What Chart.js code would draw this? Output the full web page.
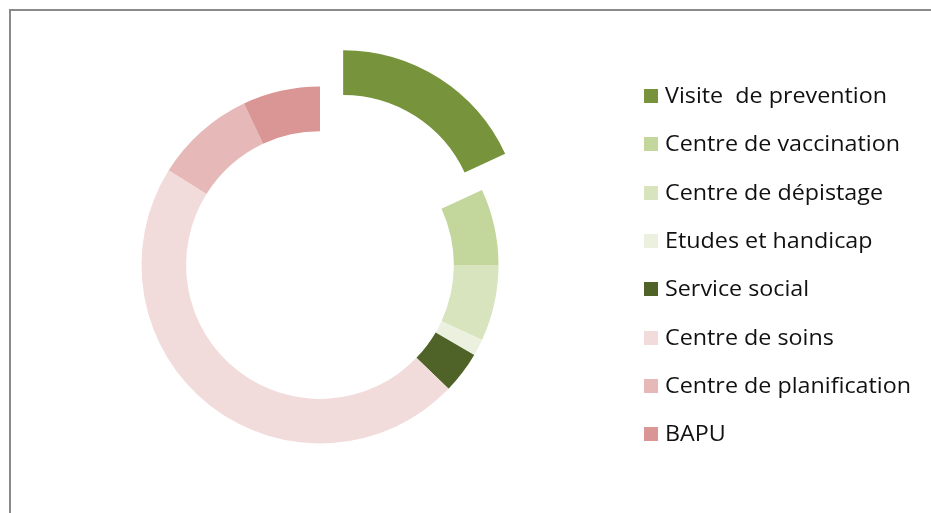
<!DOCTYPE html>
<html>
<head>
<meta charset="utf-8">
<script src="https://cdn.jsdelivr.net/npm/chart.js@4/dist/chart.umd.min.js"></script>
<style>
  html, body { margin: 0; padding: 0; background: #fff; }
  body { width: 931px; height: 513px; position: relative; overflow: hidden; }
  #frame { position: absolute; left: 9px; top: 9px; width: 940px; height: 520px;
           border-top: 2px solid #8a8a8a; border-left: 2px solid #8a8a8a; }
  #wrap { position: absolute; left: 0; top: 0; width: 931px; height: 513px; }
  #legend { position: absolute; left: 644px; top: 0; font-family: "Open Sans", "Lato", sans-serif;
            font-size: 21px; color: #111; }
  .item { position: absolute; left: 0; white-space: pre; height: 14px; }
  .sw { position: absolute; left: 0; top: 0; width: 14px; height: 14px; }
  .lbl { position: absolute; left: 21px; top: -4px; line-height: 21px; transform-origin: 0 50%; }
</style>
</head>
<body>
<div id="frame"></div>
<div id="wrap"><canvas id="c" width="931" height="513"></canvas></div>
<div id="legend"></div>
<script>
const categories = ["Visite  de prevention", "Centre de vaccination", "Centre de dépistage",
  "Etudes et handicap", "Service social", "Centre de soins", "Centre de planification", "BAPU"];
const values = [18.1, 6.9, 6.9, 1.5, 3.8, 46.7, 9.1, 7.0];
const colors = ["#77933C", "#C3D69B", "#D7E4BD", "#EBF1DE", "#4F6228", "#F2DCDB", "#E6B9B8", "#D99694"];
const explodeIndex = 0;
const explodeDistance = 43;

const explodePlugin = {
  id: 'explode',
  afterDatasetsUpdate(chart) {
    const arc = chart.getDatasetMeta(0).data[explodeIndex];
    if (!arc) return;
    const mid = (arc.startAngle + arc.endAngle) / 2;
    arc.x += Math.cos(mid) * explodeDistance;
    arc.y += Math.sin(mid) * explodeDistance;
  }
};

new Chart(document.getElementById('c'), {
  type: 'doughnut',
  data: {
    labels: categories,
    datasets: [{
      data: values,
      backgroundColor: colors,
      borderWidth: 0,
      hoverOffset: 0,
      offset: 0
    }]
  },
  options: {
    responsive: false,
    animation: false,
    devicePixelRatio: 1,
    radius: 178.5,
    cutout: '75%',
    layout: { padding: { left: 120, right: 411, top: 65, bottom: 48 } },
    plugins: { legend: { display: false }, tooltip: { enabled: false } },
    events: []
  },
  plugins: [explodePlugin]
});

const legend = document.getElementById('legend');
const labels = [];
categories.forEach((name, i) => {
  const cy = 96 + i * 48.3;
  const item = document.createElement('div');
  item.className = 'item';
  item.style.top = (cy - 7) + 'px';
  const sw = document.createElement('div');
  sw.className = 'sw';
  sw.style.background = colors[i];
  const lbl = document.createElement('div');
  lbl.className = 'lbl';
  lbl.textContent = name;
  item.appendChild(sw);
  item.appendChild(lbl);
  legend.appendChild(item);
  labels.push(lbl);
});
// stretch legend text horizontally so the longest label spans like the reference
const longest = labels[6];
const w = longest.getBoundingClientRect().width;
const sx = w > 0 ? 246 / w : 1;
labels.forEach(l => { l.style.transform = 'scaleX(' + sx + ')'; });
</script>
</body>
</html>
